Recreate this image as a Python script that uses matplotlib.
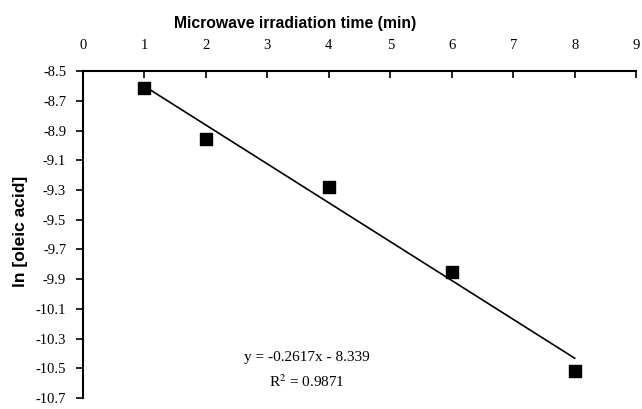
import numpy as np
import matplotlib.pyplot as plt

# Данные
time_min = [1, 2, 4, 6, 8]
ln_oleic = [-8.61, -8.96, -9.28, -9.85, -10.52]
slope = -0.2617
intercept = -8.339
x_ticks = list(range(0, 10))
y_ticks = [-8.5, -8.7, -8.9, -9.1, -9.3, -9.5, -9.7, -9.9, -10.1, -10.3, -10.5, -10.7]

fig = plt.figure(figsize=(6.42, 4.09), dpi=100)
ax = fig.add_axes([0.129, 0.027, 0.862, 0.799])

# Линия тренда
xf = np.array([min(time_min), max(time_min)])
ax.plot(xf, slope * xf + intercept, color='black', linewidth=1.2)
ax.scatter(time_min, ln_oleic, marker='s', s=75, color='black', zorder=3)

ax.set_xlim(0, 9)
ax.set_ylim(-10.7, -8.5)
ax.set_xticks(x_ticks)
ax.set_yticks(y_ticks)
ax.set_yticklabels([f'{v:.1f}' for v in y_ticks])

ax.xaxis.tick_top()
ax.xaxis.set_label_position('top')
ax.tick_params(axis='x', direction='in', length=5, width=1.2, pad=14, labelsize=10.5)
ax.tick_params(axis='y', direction='out', length=5, width=1.2, pad=7, labelsize=10.5)
for lab in ax.get_xticklabels() + ax.get_yticklabels():
    lab.set_family('Liberation Serif')

ax.spines['right'].set_visible(False)
ax.spines['bottom'].set_visible(False)
ax.spines['top'].set_linewidth(1.5)
ax.spines['left'].set_linewidth(1.5)

ax.set_xlabel('Microwave irradiation time (min)', family='Liberation Sans',
              fontweight='bold', fontsize=11.3)
ax.xaxis.set_label_coords(0.383, 1.147)
ax.xaxis.label.set_verticalalignment('center')
ax.set_ylabel('ln [oleic acid]', family='Liberation Sans',
              fontweight='bold', fontsize=12.5)
ax.yaxis.set_label_coords(-0.112, 0.51)
ax.yaxis.label.set_verticalalignment('center')

ax.text(3.65, -10.431, 'y = -0.2617x - 8.339', ha='center', va='center',
        family='Liberation Serif', fontsize=11)
ax.text(3.65, -10.593, 'R$^2$ = 0.9871', ha='center', va='center',
        family='Liberation Serif', fontsize=11, math_fontfamily='stix')

fig.savefig('out.png', dpi=100)
